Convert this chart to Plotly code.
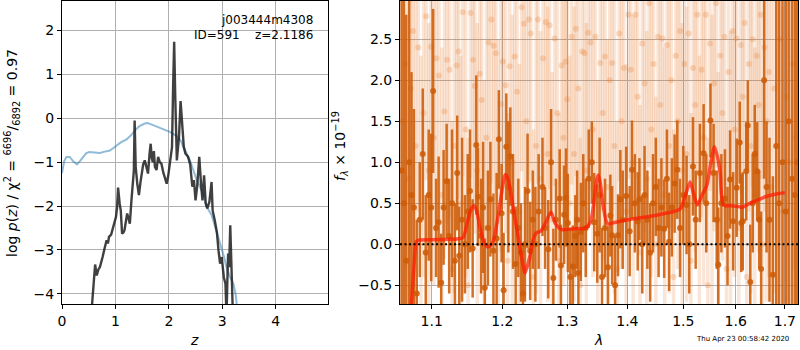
import plotly.graph_objects as go
import numpy as np

W, H = 800, 350
FONT = "DejaVu Sans"

# ---------------- left panel: p(z) ----------------
pz_z = [0.54, 0.56, 0.59, 0.62, 0.65, 0.68, 0.71, 0.74, 0.76, 0.80, 0.835, 0.86, 0.88, 0.92, 0.96,
        0.99, 1.01, 1.03, 1.05, 1.08, 1.10, 1.125, 1.15, 1.17, 1.20, 1.22, 1.25, 1.27, 1.30, 1.33,
        1.345, 1.36, 1.375, 1.38, 1.41, 1.44, 1.47, 1.49, 1.52, 1.55, 1.58, 1.61, 1.64, 1.66, 1.68,
        1.70, 1.72, 1.74, 1.77, 1.80, 1.83, 1.86, 1.90, 1.93, 1.96, 1.99, 2.02, 2.05, 2.06, 2.08,
        2.10, 2.12, 2.13, 2.15, 2.17, 2.19, 2.22, 2.25, 2.28, 2.31, 2.36, 2.40, 2.44, 2.47, 2.50,
        2.53, 2.57, 2.60, 2.63, 2.66, 2.69, 2.72, 2.76, 2.80, 2.82, 2.86, 2.90, 2.93, 2.96, 2.99,
        3.03, 3.06, 3.08, 3.10, 3.11, 3.13, 3.15, 3.18, 3.20]
pz_logp = [-4.6, -4.22, -3.80, -3.33, -3.58, -3.45, -3.39, -3.20, -3.16, -2.95, -2.78, -2.85, -2.70,
           -2.65, -2.48, -2.35, -2.25, -2.05, -1.58, -1.95, -2.10, -2.63, -2.60, -2.55, -2.35, -2.17,
           -2.30, -2.40, -1.87, -1.53, -1.20, -0.05, -0.90, -1.11, -1.50, -1.75, -1.45, -1.26, -1.05,
           -0.96, -1.10, -1.26, -0.80, -0.58, -0.90, -1.00, -0.75, -1.11, -1.18, -0.88, -1.00, -1.03,
           -1.25, -1.35, -1.49, -1.30, -1.03, -0.75, -0.65, 0.71, 1.74, 0.50, -0.20, -0.96, -0.70,
           -0.43, 0.39, -0.05, -0.65, -0.80, -0.88, -1.05, -1.56, -1.41, -1.87, -1.56, -0.88, -1.45,
           -1.87, -1.30, -1.94, -2.05, -1.90, -1.45, -2.10, -2.32, -2.60, -3.01, -3.31, -3.16, -3.62,
           -3.77, -4.50, -3.50, -3.08, -3.39, -2.44, -3.69, -4.50]

chi_z = [0.00, 0.01, 0.04, 0.083, 0.145, 0.21, 0.28, 0.34, 0.40, 0.45, 0.51, 0.60, 0.71, 0.80, 0.885,
         0.95, 1.02, 1.10, 1.21, 1.30, 1.37, 1.45, 1.55, 1.60, 1.67, 1.75, 1.83, 1.93, 2.02, 2.14,
         2.22, 2.27, 2.33, 2.39, 2.45, 2.52, 2.58, 2.65, 2.71, 2.80, 2.83, 2.90, 2.96, 3.02, 3.08,
         3.14, 3.21, 3.25, 3.27, 3.29]
chi_val = [-1.25, -1.18, -0.98, -0.88, -0.88, -0.98, -1.05, -0.97, -0.88, -0.80, -0.77, -0.78, -0.79,
           -0.76, -0.74, -0.69, -0.62, -0.55, -0.48, -0.38, -0.27, -0.18, -0.12, -0.11, -0.14, -0.18,
           -0.22, -0.27, -0.31, -0.40, -0.50, -0.65, -0.78, -0.94, -1.15, -1.40, -1.55, -1.75, -2.02,
           -2.20, -2.32, -2.60, -2.85, -3.10, -3.39, -3.60, -3.77, -4.00, -4.22, -4.50]

left_xticks = [0, 1, 2, 3, 4]
left_yticks = [-4, -3, -2, -1, 0, 1, 2]

# ---------------- right panel: spectrum ----------------
bold_lam = [1.0600, 1.0630, 1.0661, 1.0700, 1.0730, 1.0762, 1.0800, 1.0840, 1.0880, 1.0920, 1.0960,
            1.0994, 1.1020, 1.1060, 1.1095, 1.1130, 1.1163, 1.1205, 1.1240, 1.1280, 1.1320, 1.1352,
            1.1380, 1.1420, 1.1460, 1.1500, 1.1532, 1.1570, 1.1622, 1.1647, 1.1690, 1.1720, 1.1745,
            1.1790, 1.1826, 1.1870, 1.1917, 1.1950, 1.1990, 1.2020, 1.2060, 1.2090, 1.2120, 1.2160,
            1.2200, 1.2240, 1.2280, 1.2310, 1.2340, 1.2380, 1.2420, 1.2460, 1.2500, 1.2550, 1.2610,
            1.2650, 1.2700, 1.2744, 1.2780, 1.2820, 1.2880, 1.2900, 1.2950, 1.2980, 1.3010, 1.3050,
            1.3090, 1.3130, 1.3160, 1.3180, 1.3220, 1.3260, 1.3300, 1.3350, 1.3400, 1.3440, 1.3490,
            1.3530, 1.3570, 1.3620, 1.3670, 1.3710, 1.3740, 1.3790, 1.3840, 1.3880, 1.3920, 1.3980,
            1.4040, 1.4080, 1.4130, 1.4180, 1.4210, 1.4260, 1.4300, 1.4350, 1.4400, 1.4450, 1.4500,
            1.4550, 1.4600, 1.4650, 1.4700, 1.4740, 1.4790, 1.4840, 1.4889, 1.4940, 1.5000, 1.5060,
            1.5110, 1.5180, 1.5230, 1.5310, 1.5380, 1.5430, 1.5510, 1.5570, 1.5630, 1.5660, 1.5720,
            1.5790, 1.5840, 1.5890, 1.5950, 1.6020, 1.6080, 1.6110, 1.6140, 1.6210, 1.6240, 1.6290,
            1.6340, 1.6380, 1.6430, 1.6470, 1.6510, 1.6570, 1.6620, 1.6680, 1.6750, 1.6820, 1.6880,
            1.6950, 1.7020, 1.7080, 1.7150, 1.7210, 1.7260]
bold_flux = [0.90, 0.50, -0.20, 1.00, 0.60, 0.45, -0.60, 0.30, 1.10, -0.10, 0.60,
             0.45, 1.87, 0.20, 0.27, -0.47, 0.45, 0.77, 0.10, 0.50, -0.20, 0.87,
             -0.14, 0.30, 0.00, 0.40, 0.65, -0.05, 1.21, 0.58, 0.10, 0.45, -0.53,
             0.20, 0.55, -0.08, 0.07, 1.28, 0.38, -0.56, 1.19, 0.70, 1.07, 0.40,
             -0.24, 0.20, -0.10, -0.60, 0.00, 0.65, -0.08, 0.30, 0.00, 0.40, 0.70,
             0.20, -0.06, 1.00, -0.41, 0.30, 0.56, -0.26, 0.36, 0.57, 0.26, -0.40,
             -0.27, 0.10, 0.30, -0.35, 0.15, 0.50, 0.20, 0.80, 1.00, 0.27, 0.13,
             0.60, -0.40, 0.20, -0.28, 0.35, 0.11, -0.50, 0.11, 0.55, 0.30, 0.59,
             0.16, 0.91, 0.50, 0.28, 0.55, 0.00, 0.60, 0.30, -0.10, 0.50, 0.70,
             0.20, 0.45, 0.19, 0.80, 0.03, 0.45, 0.74, 0.91, 0.20, 0.60, 0.48,
             0.00, 0.95, 0.30, 0.87, 1.11, 0.50, 1.51, 0.87, 0.30, -0.25, 0.50,
             0.56, 0.10, 0.79, 0.28, 0.69, 1.24, 0.26, 0.28, 0.89, 1.45, -0.46,
             0.50, 1.10, 0.89, 0.30, -0.30, 2.00, 0.70, 0.30, -0.37, 1.20, 0.50,
             1.00, 0.40, 1.50, 0.80, 0.60, 1.00]
bold_err = [3.5, 3.0, 3.0, 3.0, 1.5, 1.2, 0.9, 0.7, 0.8, 0.7, 0.8,
            0.9, 1.0, 0.6, 0.8, 0.6, 0.7, 0.7, 0.7, 0.9, 0.7, 0.7,
            0.6, 1.0, 0.6, 0.7, 0.75, 0.6, 0.85, 0.6, 0.7, 0.8, 0.6,
            0.7, 0.7, 0.7, 0.8, 0.6, 0.6, 0.7, 0.65, 0.8, 0.6, 0.7,
            0.7, 0.6, 0.6, 0.6, 0.7, 0.7, 0.6, 0.6, 0.7, 0.7, 0.6,
            0.5, 0.6, 0.65, 0.6, 0.5, 0.6, 0.5, 0.6, 0.6, 0.6, 0.6,
            0.5, 0.5, 0.6, 0.5, 0.6, 0.6, 0.6, 0.6, 0.5, 0.6, 0.6,
            0.7, 0.6, 0.6, 0.5, 0.5, 0.6, 0.6, 0.5, 0.6, 0.6, 0.6,
            0.55, 0.6, 0.6, 0.6, 0.5, 0.6, 0.6, 0.6, 0.6, 0.6, 0.6,
            0.6, 0.6, 0.6, 0.6, 0.6, 0.6, 0.6, 0.6, 0.6, 0.6, 0.6,
            0.6, 0.6, 0.6, 0.6, 0.6, 0.6, 0.45, 0.6, 0.6, 0.7, 0.6,
            0.6, 0.6, 0.6, 0.6, 0.6, 0.5, 0.6, 0.6, 0.6, 0.55, 0.7,
            0.6, 0.6, 0.6, 0.6, 0.7, 1.2, 0.8, 1.0, 1.2, 2.0, 3.0,
            3.0, 3.0, 3.5, 3.5, 3.5, 3.5]

faded_lam = [1.0610, 1.0650, 1.0690, 1.0720, 1.0750, 1.0785, 1.0820, 1.0855, 1.0890, 1.0925, 1.0960,
             1.0990, 1.1030, 1.1065, 1.1100, 1.1140, 1.1175, 1.1210, 1.1245, 1.1280, 1.1310, 1.1345,
             1.1370, 1.1400, 1.1430, 1.1470, 1.1505, 1.1540, 1.1575, 1.1600, 1.1635, 1.1670, 1.1700,
             1.1735, 1.1770, 1.1800, 1.1840, 1.1875, 1.1905, 1.1940, 1.1980, 1.2010, 1.2050, 1.2080,
             1.2110, 1.2150, 1.2185, 1.2220, 1.2255, 1.2290, 1.2325, 1.2360, 1.2400, 1.2430, 1.2470,
             1.2510, 1.2540, 1.2580, 1.2620, 1.2660, 1.2690, 1.2720, 1.2760, 1.2800, 1.2840, 1.2870,
             1.2910, 1.2940, 1.2975, 1.3000, 1.3040, 1.3070, 1.3110, 1.3140, 1.3180, 1.3210, 1.3240,
             1.3280, 1.3310, 1.3340, 1.3380, 1.3420, 1.3460, 1.3500, 1.3540, 1.3580, 1.3620, 1.3660,
             1.3700, 1.3740, 1.3780, 1.3820, 1.3860, 1.3900, 1.3940, 1.3980, 1.4020, 1.4060, 1.4100,
             1.4140, 1.4180, 1.4220, 1.4260, 1.4300, 1.4340, 1.4380, 1.4420, 1.4460, 1.4500, 1.4540,
             1.4580, 1.4620, 1.4660, 1.4700, 1.4740, 1.4780, 1.4820, 1.4860, 1.4900, 1.4940, 1.4980,
             1.5020, 1.5060, 1.5100, 1.5140, 1.5180, 1.5220, 1.5260, 1.5300, 1.5340, 1.5380, 1.5420,
             1.5460, 1.5500, 1.5540, 1.5580, 1.5620, 1.5660, 1.5700, 1.5740, 1.5780, 1.5820, 1.5860,
             1.5900, 1.5940, 1.5980, 1.6020, 1.6060, 1.6100, 1.6140, 1.6180, 1.6220, 1.6260, 1.6300,
             1.6340, 1.6380, 1.6420, 1.6460, 1.6500, 1.6540, 1.6580, 1.6620, 1.6670, 1.6720, 1.6780,
             1.6840, 1.6900, 1.6960, 1.7030, 1.7100, 1.7170, 1.7230]
faded_flux = [1.50, 2.20, 0.80, 1.90, 2.60, 1.20, 2.40, 0.30, 1.60, 2.78, 0.90,
              2.41, 1.30, 2.27, 2.06, 0.60, 1.62, 2.25, 2.13, -0.30, 1.20, 2.18,
              2.35, 0.50, 2.83, 1.40, -0.50, 2.82, 2.25, 1.93, 0.90, 2.08, 1.76,
              0.20, 1.30, 2.46, 2.74, 2.42, 2.33, 0.70, 1.71, 2.23, 1.94, -0.20,
              2.17, 1.00, 2.29, 1.86, 0.40, 2.89, 2.69, 1.50, 2.74, 2.57, -0.40,
              1.20, 2.74, 0.80, 2.27, 2.71, 1.10, 2.67, 0.30, 2.51, 1.60, -0.20,
              2.18, 1.30, 2.23, 1.77, 0.50, 2.53, 1.10, 2.63, 1.90, -0.50, 2.35,
              2.33, 0.90, 2.58, 2.46, 1.40, 2.53, 0.20, 2.21, 1.60, 2.29, 0.70,
              2.00, 2.21, 1.20, -0.30, 2.57, 1.50, 2.15, 0.40, 2.80, 2.13, 1.00,
              2.80, 1.80, -0.10, 2.45, 1.96, 0.80, 2.94, 1.40, 2.20, 0.00, 2.53,
              1.70, 2.51, 0.60, 2.43, 1.20, 2.00, -0.40, 2.30, 1.50, 2.60, 0.90,
              2.20, 1.10, 2.57, -0.20, 2.15, 1.70, 2.80, 0.50, 2.13, 1.30, 2.80,
              -0.50, 2.45, 1.00, 1.96, 2.94, 0.30, 2.30, 1.60, 2.53, -0.30, 2.10,
              0.80, 2.60, 1.40, 2.51, 0.20, 2.43, 1.80, 2.70, -0.40, 2.20, 1.20,
              2.50, 0.60, 2.30, 1.70, 2.80, 0.00, 2.40, 1.50, 2.10, 0.70, 1.90,
              1.20, 2.50, 0.40, 1.80, 1.00, 2.20, 1.30]
faded_err = [2.5, 2.5, 2.5, 2.5, 2.2, 2.0, 2.0, 2.0, 2.0, 2.0, 1.8,
             2.0, 1.8, 2.0, 1.8, 1.8, 1.8, 2.0, 1.8, 1.8, 1.8, 2.0,
             1.8, 1.8, 2.0, 1.8, 1.8, 2.0, 1.8, 1.8, 1.8, 1.8, 1.8,
             1.8, 1.8, 2.0, 2.0, 1.8, 1.8, 1.8, 1.8, 1.8, 1.8, 1.8,
             1.8, 1.8, 1.8, 1.8, 1.8, 2.0, 2.0, 1.8, 2.0, 1.8, 1.8,
             1.8, 2.0, 1.8, 1.8, 2.0, 1.8, 2.0, 1.8, 1.8, 1.8, 1.8,
             1.8, 1.8, 1.8, 1.8, 1.8, 1.8, 1.8, 1.8, 1.8, 1.8, 1.8,
             1.8, 1.8, 1.8, 1.8, 1.8, 1.8, 1.8, 1.8, 1.8, 1.8, 1.8,
             1.8, 1.8, 1.8, 1.8, 1.8, 1.8, 1.8, 1.8, 2.0, 1.8, 1.8,
             2.0, 1.8, 1.8, 1.8, 1.8, 1.8, 2.0, 1.8, 1.8, 1.8, 1.8,
             1.8, 1.8, 1.8, 1.8, 1.8, 1.8, 1.8, 1.8, 1.8, 1.8, 1.8,
             1.8, 1.8, 1.8, 1.8, 1.8, 1.8, 2.0, 1.8, 1.8, 1.8, 2.0,
             1.8, 1.8, 1.8, 1.8, 2.0, 1.8, 1.8, 1.8, 1.8, 1.8, 1.8,
             1.8, 1.8, 1.8, 1.8, 1.8, 1.8, 1.8, 1.8, 1.8, 1.8, 1.8,
             1.8, 1.8, 1.8, 1.8, 2.0, 2.0, 2.0, 2.2, 2.5, 2.5, 2.5,
             2.5, 2.5, 2.5, 2.5, 2.5, 2.5, 2.5]

model_lam = [1.0700, 1.0727, 1.0760, 1.0793, 1.0825, 1.1000, 1.1200, 1.1350, 1.1433, 1.1503, 1.1550,
             1.1590, 1.1630, 1.1672, 1.1730, 1.1781, 1.1820, 1.1864, 1.1938, 1.2012, 1.2043, 1.2075,
             1.2111, 1.2176, 1.2262, 1.2342, 1.2414, 1.2464, 1.2515, 1.2582, 1.2650, 1.2743, 1.2806,
             1.2913, 1.3100, 1.3300, 1.3380, 1.3425, 1.3480, 1.3507, 1.3540, 1.3591, 1.3665, 1.3800,
             1.4018, 1.4429, 1.4726, 1.4940, 1.5040, 1.5125, 1.5190, 1.5262, 1.5350, 1.5440, 1.5520,
             1.5586, 1.5650, 1.5696, 1.5760, 1.5900, 1.6050, 1.6127, 1.6250, 1.6359, 1.6597, 1.6800,
             1.6999]
model_flux = [-0.90, -0.73, -0.30, 0.03, 0.05, 0.055, 0.06, 0.065, 0.08, 0.30, 0.43,
              0.47, 0.40, 0.21, 0.03, -0.03, -0.02, 0.03, 0.34, 0.74, 0.85, 0.82,
              0.70, 0.38, -0.03, -0.35, -0.15, 0.05, 0.14, 0.16, 0.25, 0.39, 0.26,
              0.18, 0.19, 0.20, 0.28, 0.46, 0.78, 0.845, 0.75, 0.46, 0.25, 0.27,
              0.30, 0.345, 0.385, 0.43, 0.60, 0.76, 0.62, 0.48, 0.60, 0.72, 1.00,
              1.19, 1.05, 0.87, 0.48, 0.47, 0.46, 0.45, 0.49, 0.52, 0.58, 0.61,
              0.63]

right_xticks = [1.1, 1.2, 1.3, 1.4, 1.5, 1.6, 1.7]
right_xticklabels = ["1.1", "1.2", "1.3", "1.4", "1.5", "1.6", "1.7"]
right_yticks = [-0.5, 0.0, 0.5, 1.0, 1.5, 2.0, 2.5]

# ---------------- figure ----------------
ORANGE = "rgba(205,92,8,0.88)"
PALE = "rgba(228,115,35,0.19)"
PALE_M = "rgba(228,115,35,0.24)"

fig = go.Figure()

fig.add_trace(go.Scatter(x=chi_z, y=chi_val, mode="lines", xaxis="x", yaxis="y",
                         line=dict(color="rgba(31,119,180,0.5)", width=2), showlegend=False))
fig.add_trace(go.Scatter(x=pz_z, y=pz_logp, mode="lines", xaxis="x", yaxis="y",
                         line=dict(color="rgba(30,30,30,0.85)", width=2.4), showlegend=False))

fig.add_trace(go.Scatter(x=faded_lam, y=faded_flux, mode="markers", xaxis="x2", yaxis="y2",
                         marker=dict(color=PALE_M, size=6, line=dict(width=0)),
                         error_y=dict(type="data", array=faded_err, color=PALE, thickness=3.5, width=0),
                         showlegend=False))
fig.add_trace(go.Scatter(x=bold_lam, y=bold_flux, mode="markers", xaxis="x2", yaxis="y2",
                         marker=dict(color=ORANGE, size=6, line=dict(width=0)),
                         error_y=dict(type="data", array=bold_err, color=ORANGE, thickness=2.5, width=0),
                         showlegend=False))
fig.add_trace(go.Scatter(x=model_lam, y=model_flux, mode="lines", xaxis="x2", yaxis="y2",
                         line=dict(color="rgba(255,25,0,0.72)", width=3.5, shape="spline", smoothing=0.7),
                         showlegend=False))

x1_dom = [62 / W, 328 / W]
x2_dom = [400 / W, 798 / W]
y_dom = [(H - 304) / H, (H - 1) / H]

axis_common = dict(showline=True, linecolor="black", linewidth=1, mirror=True,
                   ticks="outside", ticklen=4, tickwidth=1, tickcolor="black",
                   showgrid=True, gridcolor="#b0b0b0", gridwidth=1, zeroline=False,
                   automargin=False,
                   tickfont=dict(family=FONT, size=14, color="black"))

fig.update_layout(
    width=W, height=H, autosize=False,
    margin=dict(l=0, r=0, t=0, b=0),
    paper_bgcolor="white", plot_bgcolor="white",
    font=dict(family=FONT, color="black"),
    xaxis=dict(domain=x1_dom, anchor="y", range=[0, 4.98], tickmode="array",
               tickvals=left_xticks, **axis_common),
    yaxis=dict(domain=y_dom, anchor="x", range=[-4.23, 2.67], tickmode="array",
               tickvals=left_yticks, **axis_common),
    xaxis2=dict(domain=x2_dom, anchor="y2", type="log",
                range=[np.log10(1.0579), np.log10(1.7277)], tickmode="array",
                tickvals=right_xticks, ticktext=right_xticklabels, **axis_common),
    yaxis2=dict(domain=y_dom, anchor="x2", range=[-0.728, 2.967], tickmode="array",
                tickvals=right_yticks, tickformat=".1f", **axis_common),
)

# zero line on spectrum
fig.add_shape(type="line", xref="x2 domain", yref="y2", x0=0, x1=1, y0=0, y1=0,
              line=dict(color="black", width=2, dash="2px,2.5px"), layer="above")


def py(p):
    return 1 - p / H


ann = [
    dict(text="j003444m4308", x=313.5 / W, y=py(20), xanchor="right", yanchor="middle",
         font=dict(size=12)),
    dict(text="ID=591\u00a0\u00a0\u00a0\u00a0z=2.1186", x=313.5 / W, y=py(35), xanchor="right",
         yanchor="middle", font=dict(size=12)),
    dict(text="<i>z</i>", x=194 / W, y=py(340), xanchor="center", yanchor="middle",
         font=dict(size=14)),
    dict(text="<i>λ</i>", x=598 / W, y=py(340), xanchor="center", yanchor="middle",
         font=dict(size=14)),
    dict(text="log <i>p</i>(<i>z</i>) / χ<sup>2</sup> = <sup>6696</sup>/<sub>6892</sub> = 0.97",
         x=12 / W, y=py(153), xanchor="center", yanchor="middle", textangle=-90,
         font=dict(size=14)),
    dict(text="<i>f</i><sub><i>λ</i></sub> × 10<sup>−19</sup>", x=340 / W, y=py(146),
         xanchor="center", yanchor="middle", textangle=-90, font=dict(size=14)),
    dict(text="Thu Apr 23 00:58:42 2020", x=742 / W, y=py(339), xanchor="center",
         yanchor="middle", font=dict(size=7)),
]
for a in ann:
    a.update(xref="paper", yref="paper", showarrow=False, borderpad=0)
    a["font"]["family"] = FONT
    a["font"]["color"] = "black"
    fig.add_annotation(**a)

fig.write_html("out.html")
